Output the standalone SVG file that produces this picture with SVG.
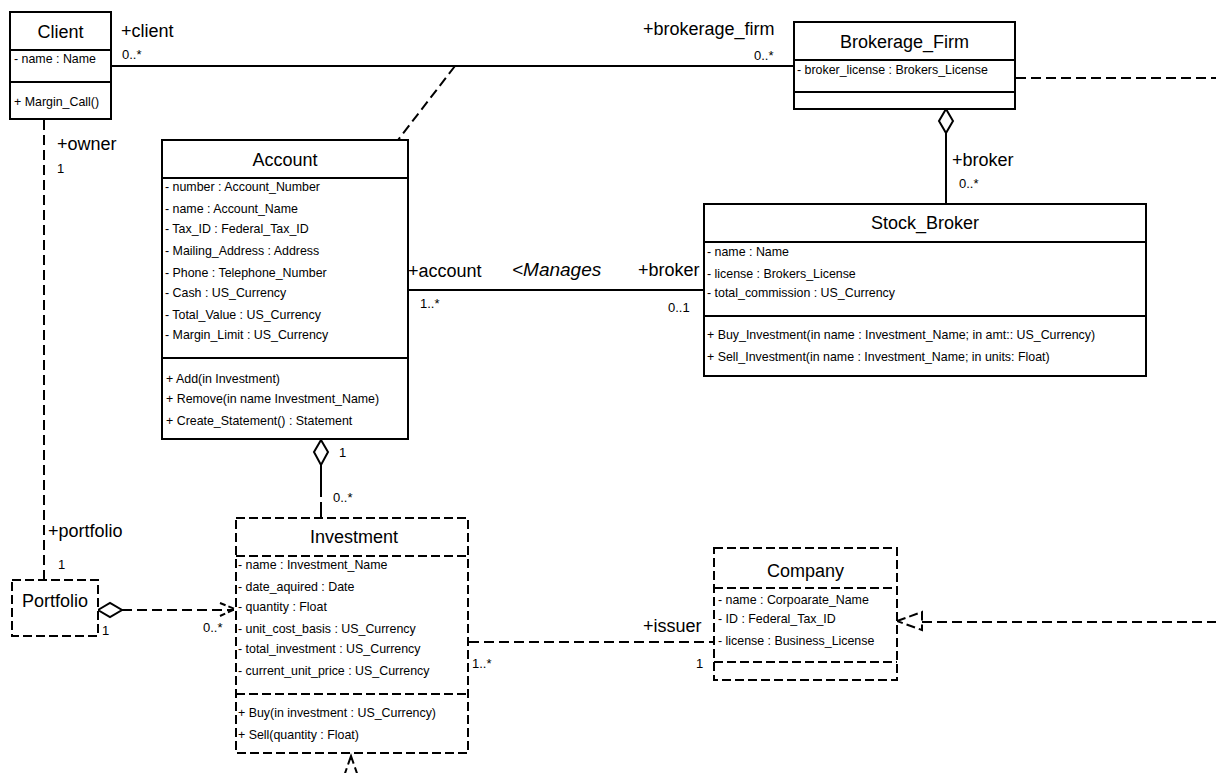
<svg xmlns="http://www.w3.org/2000/svg" width="1216" height="773" viewBox="0 0 1216 773">
<style>
text{font-family:"Liberation Sans",Arial,sans-serif;fill:#000}
.t{font-size:18px;text-anchor:middle}
.a{font-size:12.4px}
.r{font-size:18px}
.m{font-size:13px}
.box{fill:#fff;stroke:#000;stroke-width:2}
.dbox{fill:#fff;stroke:#000;stroke-width:2;stroke-dasharray:9,4}
.ln{fill:none;stroke:#000;stroke-width:2}
.dl{fill:none;stroke:#000;stroke-width:2;stroke-dasharray:10,5}
.sep{stroke:#000;stroke-width:2}
.dsep{stroke:#000;stroke-width:2;stroke-dasharray:9,4}
</style>
<rect width="1216" height="773" fill="#fff"/>
<g id="connectors">
<line class="ln" x1="112" y1="66" x2="794" y2="66"/>
<line class="dl" x1="455" y1="66" x2="398" y2="140"/>
<line class="dl" x1="44" y1="120" x2="44" y2="580"/>
<line class="dl" x1="1016" y1="78" x2="1216" y2="78"/>
<polygon class="box" points="946,109 953,121 946,133 939,121"/>
<line class="ln" x1="946" y1="133" x2="946" y2="204"/>
<line class="ln" x1="408" y1="290" x2="704" y2="290"/>
<polygon class="box" points="321,440 328,452 321,465 314,452"/>
<line class="ln" x1="321" y1="465" x2="321" y2="497"/>
<line class="ln" x1="321" y1="502" x2="321" y2="518"/>
<polygon class="box" points="98,610 110,603 122,610 110,617"/>
<line class="dl" x1="122" y1="610" x2="234" y2="610"/>
<polyline class="dl" style="stroke-dasharray:6,3" points="220,603 235,609 220,616"/>
<line class="dl" x1="469" y1="642" x2="714" y2="642"/>
<polygon fill="#fff" stroke="#000" stroke-width="2" stroke-dasharray="9,4" points="897,621 922,612 922,630"/>
<line class="dl" x1="922" y1="622" x2="1216" y2="622"/>
<polygon fill="#fff" stroke="#000" stroke-width="2" stroke-dasharray="9,4" points="351,756 342,782 360,782"/>
</g>
<g id="labels">
<text class="r" x="121" y="37">+client</text>
<text class="m" x="122" y="59">0..*</text>
<text class="r" x="643" y="35">+brokerage_firm</text>
<text class="m" x="754" y="60">0..*</text>
<text class="r" x="57" y="150">+owner</text>
<text class="m" x="57" y="173">1</text>
<text class="r" x="952" y="166">+broker</text>
<text class="m" x="959" y="188">0..*</text>
<text class="r" x="408" y="277">+account</text>
<text class="r" x="512" y="276" style="font-style:italic;font-size:19px">&lt;Manages</text>
<text class="r" x="638" y="276">+broker</text>
<text class="m" x="420" y="308">1..*</text>
<text class="m" x="668" y="312">0..1</text>
<text class="m" x="339" y="457">1</text>
<text class="m" x="333" y="502">0..*</text>
<text class="r" x="48" y="537">+portfolio</text>
<text class="m" x="58" y="569">1</text>
<text class="m" x="102" y="635">1</text>
<text class="m" x="203" y="632">0..*</text>
<text class="r" x="643" y="632">+issuer</text>
<text class="m" x="472" y="668">1..*</text>
<text class="m" x="696" y="668">1</text>
</g>
<g id="client">
<rect class="box" x="10" y="12" width="101" height="107"/>
<line class="sep" x1="10" y1="50" x2="111" y2="50"/>
<line class="sep" x1="10" y1="82" x2="111" y2="82"/>
<text class="t" x="60.5" y="38">Client</text>
<text class="a" x="14" y="63">- name : Name</text>
<text class="a" x="14" y="106">+ Margin_Call()</text>
</g>
<g id="brokerage_firm">
<rect class="box" x="794" y="22" width="221" height="87"/>
<line class="sep" x1="794" y1="60" x2="1015" y2="60"/>
<line class="sep" x1="794" y1="92" x2="1015" y2="92"/>
<text class="t" x="904.5" y="48">Brokerage_Firm</text>
<text class="a" x="797" y="74">- broker_license : Brokers_License</text>
</g>
<g id="account">
<rect class="box" x="162" y="140" width="246" height="299"/>
<line class="sep" x1="162" y1="178" x2="408" y2="178"/>
<line class="sep" x1="162" y1="358" x2="408" y2="358"/>
<text class="t" x="285" y="166">Account</text>
<text class="a" x="165" y="191">- number : Account_Number</text>
<text class="a" x="165" y="213">- name : Account_Name</text>
<text class="a" x="165" y="233">- Tax_ID : Federal_Tax_ID</text>
<text class="a" x="165" y="255">- Mailing_Address : Address</text>
<text class="a" x="165" y="277">- Phone : Telephone_Number</text>
<text class="a" x="165" y="297">- Cash : US_Currency</text>
<text class="a" x="165" y="319">- Total_Value : US_Currency</text>
<text class="a" x="165" y="339">- Margin_Limit : US_Currency</text>
<text class="a" x="166" y="383">+ Add(in Investment)</text>
<text class="a" x="166" y="403">+ Remove(in name Investment_Name)</text>
<text class="a" x="166" y="425">+ Create_Statement() : Statement</text>
</g>
<g id="stock_broker">
<rect class="box" x="704" y="204" width="442" height="172"/>
<line class="sep" x1="704" y1="242" x2="1146" y2="242"/>
<line class="sep" x1="704" y1="316" x2="1146" y2="316"/>
<text class="t" x="925" y="229">Stock_Broker</text>
<text class="a" x="707" y="256">- name : Name</text>
<text class="a" x="707" y="278">- license : Brokers_License</text>
<text class="a" x="707" y="297">- total_commission : US_Currency</text>
<text class="a" x="707" y="339">+ Buy_Investment(in name : Investment_Name; in amt:: US_Currency)</text>
<text class="a" x="707" y="361">+ Sell_Investment(in name : Investment_Name; in units: Float)</text>
</g>
<g id="portfolio">
<rect class="dbox" x="12" y="580" width="86" height="56"/>
<text class="t" x="55" y="607">Portfolio</text>
</g>
<g id="investment">
<rect class="dbox" x="236" y="518" width="232" height="235"/>
<line class="dsep" x1="236" y1="556" x2="468" y2="556"/>
<line class="dsep" x1="236" y1="694" x2="468" y2="694"/>
<text class="t" x="354" y="543">Investment</text>
<text class="a" x="238" y="569">- name : Investment_Name</text>
<text class="a" x="238" y="591">- date_aquired : Date</text>
<text class="a" x="238" y="611">- quantity : Float</text>
<text class="a" x="238" y="633">- unit_cost_basis : US_Currency</text>
<text class="a" x="238" y="653">- total_investment : US_Currency</text>
<text class="a" x="238" y="675">- current_unit_price : US_Currency</text>
<text class="a" x="238" y="717">+ Buy(in investment : US_Currency)</text>
<text class="a" x="238" y="739">+ Sell(quantity : Float)</text>
</g>
<g id="company">
<rect class="dbox" x="714" y="548" width="183" height="132"/>
<line class="dsep" x1="714" y1="588" x2="897" y2="588"/>
<line class="dsep" x1="714" y1="662" x2="897" y2="662"/>
<text class="t" x="805.5" y="577">Company</text>
<text class="a" x="718" y="604">- name : Corpoarate_Name</text>
<text class="a" x="718" y="623">- ID : Federal_Tax_ID</text>
<text class="a" x="718" y="645">- license : Business_License</text>
</g>
</svg>
